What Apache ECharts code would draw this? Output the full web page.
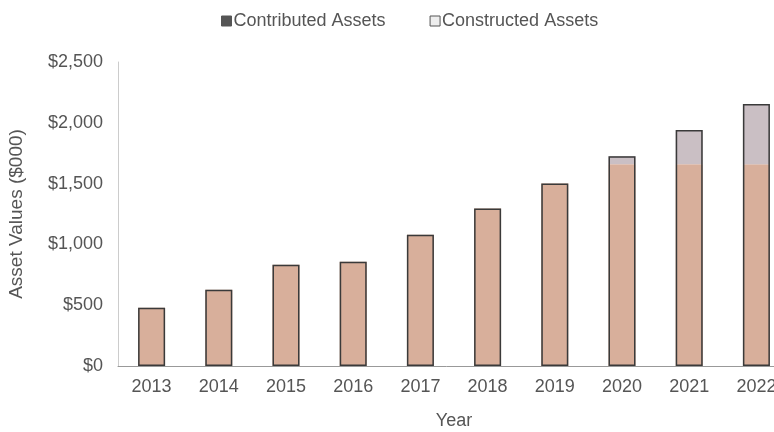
<!DOCTYPE html>
<html>
<head>
<meta charset="utf-8">
<script src="https://cdn.jsdelivr.net/npm/echarts@6/dist/echarts.min.js"></script>
<style>html,body{margin:0;padding:0;background:#fff}#c{width:774px;height:432px}</style>
</head>
<body>
<div id="c"></div>
<script>
var years = ['2013','2014','2015','2016','2017','2018','2019','2020','2021','2022'];
var contributed = [480, 627, 833, 858, 1080, 1295, 1500, 1660, 1660, 1660];
var constructed = [0, 0, 0, 0, 0, 0, 0, 65, 280, 495];
var yTicks = [0, 500, 1000, 1500, 2000, 2500];

var totals = contributed.map(function (v, i) { return v + constructed[i]; });
var chart = echarts.init(document.getElementById('c'), null, {renderer: 'canvas'});
var txt = '#555';
chart.setOption({
  animation: false,
  textStyle: {fontFamily: 'Liberation Sans, Arial, sans-serif'},
  legend: {
    top: 7, left: 216, itemGap: 44, itemWidth: 10, itemHeight: 10, icon: 'rect',
    textStyle: {color: txt, fontSize: 18, padding: [0, 0, 0, -3]},
    data: [
      {name: 'Contributed Assets', itemStyle: {color: '#555', borderColor: '#555', borderWidth: 1}},
      {name: 'Constructed Assets', itemStyle: {color: '#eee', borderColor: '#555', borderWidth: 1}}
    ]
  },
  grid: {left: 118, width: 672, top: 62, height: 304, containLabel: false, outerBoundsMode: 'none'},
  xAxis: {
    type: 'category', data: years,
    name: 'Year', nameLocation: 'middle', nameGap: 46,
    nameTextStyle: {color: txt, fontSize: 18},
    axisLine: {lineStyle: {color: '#999'}},
    axisTick: {show: false},
    axisLabel: {color: txt, fontSize: 18, margin: 12}
  },
  yAxis: {
    type: 'value', min: 0, max: 2500, interval: 500,
    name: 'Asset Values ($000)', nameLocation: 'middle', nameGap: 92, nameRotate: 90,
    nameTextStyle: {color: txt, fontSize: 19},
    axisLine: {show: true, lineStyle: {color: '#ccc'}},
    axisTick: {show: false},
    splitLine: {show: false},
    axisLabel: {color: txt, fontSize: 18, margin: 15, formatter: function (v) {
      return yTicks.indexOf(v) >= 0 ? '$' + v.toLocaleString('en-US') : '';
    }}
  },
  series: [
    {name: 'Contributed Assets', type: 'bar', stack: 'a', data: contributed, barWidth: 27,
      itemStyle: {color: '#d8af9b'}},
    {name: 'Constructed Assets', type: 'bar', stack: 'a', data: constructed, barWidth: 27,
      itemStyle: {color: '#cabfc4'}},
    {name: 'outline', type: 'bar', data: totals, barWidth: 27, barGap: '-100%', z: 5, silent: true,
      itemStyle: {color: 'rgba(0,0,0,0)', borderColor: '#3a3a3a', borderWidth: 1.5}}
  ]
});
</script>
</body>
</html>
